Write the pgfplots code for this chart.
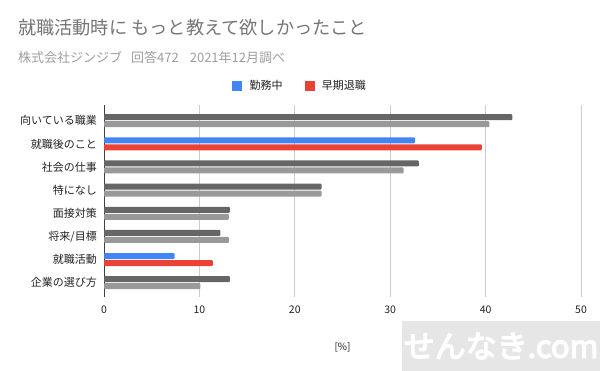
\documentclass[border=0pt]{standalone}
\usepackage{pgfplots}
\pgfplotsset{compat=1.18}
\usepackage{fontspec}
\setmainfont{Noto Sans CJK JP}
\newfontfamily\wmfont[FakeBold=4]{Noto Sans CJK JP}
\definecolor{dgray}{HTML}{666666}
\definecolor{lgray}{HTML}{999999}
\definecolor{gblue}{HTML}{4285F4}
\definecolor{gred}{HTML}{EA4335}
\definecolor{titlec}{HTML}{757575}
\definecolor{subc}{HTML}{9E9E9E}
\definecolor{gridc}{HTML}{CCCCCC}
\definecolor{txt}{HTML}{222222}
\definecolor{wm}{HTML}{E6E6E6}
\begin{document}
\begin{tikzpicture}[x=1pt,y=1pt]
\path[use as bounding box] (0,0) rectangle (600,371);
\fill[wm] (402,0) rectangle (600,50);
\node[anchor=center, text=white, font=\fontsize{31}{31}\selectfont\wmfont, inner sep=0] at (501,25) {せんなき.com};
\node[anchor=base west, text=titlec, font=\fontsize{18.2}{19}\selectfont, inner sep=0] at (18,336) {就職活動時に もっと教えて欲しかったこと};
\node[anchor=base west, text=subc, font=\fontsize{13}{13}\selectfont, inner sep=0] at (18,308) {株式会社ジンジブ\hspace{9pt}回答472\hspace{11pt}2021年12月調べ};
\begin{axis}[
  at={(104pt,74pt)}, anchor=south west, scale only axis,
  width=477pt, height=192pt,
  xbar, xmin=0, xmax=50, ymin=-0.62, ymax=7.68,
  bar width=6pt,
  ytick={0,...,7},
  yticklabels={企業の選び方,就職活動,将来/目標,面接対策,特になし,社会の仕事,就職後のこと,向いている職業},
  xtick={0,10,...,50},
  xmajorgrids, grid style={gridc, line width=0.8pt},
  axis x line*=bottom, axis y line*=left,
  x axis line style={draw=none},
  y axis line style={draw=black!75, line width=0.9pt, -},
  major tick length=0pt,
  /pgf/number format/assume math mode=true,
  xticklabel style={font=\fontsize{10.5}{10.5}\selectfont, text=txt, inner sep=0pt, yshift=-9pt},
  yticklabel style={font=\fontsize{11}{11}\selectfont, text=txt, inner sep=0pt, xshift=-7pt},
  xlabel={[\%]},
  xlabel style={font=\fontsize{10}{10}\selectfont, text=txt, inner sep=0pt, anchor=center, at={(axis description cs:0.5,-0.26)}},
  legend style={at={(axis description cs:0.411,1.099)}, anchor=center, draw=none, fill=none,
    legend columns=2, font=\fontsize{11}{11}\selectfont, text=txt,
    /tikz/every even column/.append style={column sep=20pt}},
]
\addplot[draw=none, fill=dgray, bar shift=3.5pt, rounded corners=1pt, forget plot] coordinates {(42.8,7) (33.0,5) (22.8,4) (13.2,3) (12.2,2) (13.2,0)};
\addplot[draw=none, fill=lgray, bar shift=-3.5pt, rounded corners=1pt, forget plot] coordinates {(40.4,7) (31.4,5) (22.8,4) (13.1,3) (13.1,2) (10.1,0)};
\addplot[draw=none, fill=gblue, bar shift=3.5pt, rounded corners=1pt, forget plot] coordinates {(32.6,6) (7.4,1)};
\addplot[draw=none, fill=gred, bar shift=-3.5pt, rounded corners=1pt, forget plot] coordinates {(39.6,6) (11.4,1)};
\addlegendimage{legend image code/.code={\fill[gblue] (0pt,-4.5pt) rectangle (9pt,4.5pt);}}
\addlegendentry{\hspace{6pt}勤務中}
\addlegendimage{legend image code/.code={\fill[gred] (0pt,-4.5pt) rectangle (9pt,4.5pt);}}
\addlegendentry{\hspace{6pt}早期退職}
\end{axis}
\end{tikzpicture}
\end{document}
